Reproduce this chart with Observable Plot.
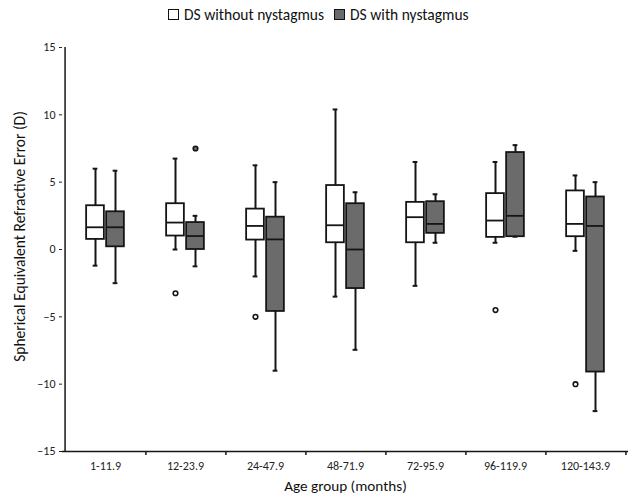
<!DOCTYPE html>
<html>
<head>
<meta charset="utf-8">
<script src="https://cdn.jsdelivr.net/npm/d3@7"></script>
<script src="https://cdn.jsdelivr.net/npm/@observablehq/plot@0.6"></script>
<style>
  body { margin: 0; background: #fff; font-family: Carlito, Lato, "Open Sans", sans-serif; }
  #legend { position: relative; height: 36px; width: 630px; font-size: 15.5px; color: #111; }
  #legendRow { position: absolute; left: 168px; top: 5px; display: flex; align-items: center; gap: 10px; white-space: nowrap; }
  .item { display: flex; align-items: center; gap: 5px; }
  .sw { width: 9px; height: 9px; border: 1.7px solid #111; display: inline-block; }
</style>
</head>
<body>
<div id="legend"><div id="legendRow"></div></div>
<div id="chart"></div>
<script>
const groups = ["1-11.9","12-23.9","24-47.9","48-71.9","72-95.9","96-119.9","120-143.9"];
const seriesNames = ["DS without nystagmus", "DS with nystagmus"];
const seriesFill = ["#ffffff", "#6b6b6b"];
const yTicks = [-15, -10, -5, 0, 5, 10, 15];

// DS without nystagmus
const noLow  = [-1.2, 0.0, -2.0, -3.5, -2.7, 0.5, -0.1];
const noQ1   = [0.75, 1.0, 0.7, 0.5, 0.5, 0.9, 0.95];
const noMed  = [1.65, 2.0, 1.75, 1.8, 2.4, 2.15, 1.9];
const noQ3   = [3.25, 3.4, 3.0, 4.75, 3.5, 4.15, 4.35];
const noHigh = [6.0, 6.75, 6.25, 10.4, 6.5, 6.5, 5.5];
const noOut  = [[], [-3.25], [-5.0], [], [], [-4.5], [-10.0]];

// DS with nystagmus
const wLow  = [-2.5, -1.25, -9.0, -7.45, 0.5, 0.95, -12.0];
const wQ1   = [0.2, 0.0, -4.6, -2.9, 1.2, 0.95, -9.1];
const wMed  = [1.65, 1.0, 0.75, 0.0, 1.9, 2.5, 1.75];
const wQ3   = [2.8, 2.0, 2.4, 3.4, 3.55, 7.2, 3.9];
const wHigh = [5.85, 2.5, 5.0, 4.25, 4.1, 7.75, 5.0];
const wOut  = [[], [7.5], [], [], [], [], []];

function rowsOf(low, q1, med, q3, high) {
  return groups.map((g, i) => ({group: g, low: low[i], q1: q1[i], med: med[i], q3: q3[i], high: high[i]}));
}
function outsOf(outs) {
  return groups.flatMap((g, i) => outs[i].map(v => ({group: g, value: v})));
}

const W = 630, H = 466, mL = 62, mR = 2, mT = 11, mB = 51;
const bw = (W - mL - mR) / groups.length;
const halfBox = 9.3, off = 10, cap = 2.8;
const ink = "#151515";

function boxMarks(rows, outs, fill, dx) {
  const inBox = bw / 2 - halfBox;
  const inCap = bw / 2 - cap;
  return [
    Plot.ruleX(rows, {x: "group", y1: "low", y2: "high", dx, stroke: ink, strokeWidth: 2}),
    Plot.tickY(rows, {x: "group", y: "low", dx, insetLeft: inCap, insetRight: inCap, stroke: ink, strokeWidth: 2}),
    Plot.tickY(rows, {x: "group", y: "high", dx, insetLeft: inCap, insetRight: inCap, stroke: ink, strokeWidth: 2}),
    Plot.barY(rows, {x: "group", y1: "q1", y2: "q3", dx, insetLeft: inBox, insetRight: inBox, fill, stroke: ink, strokeWidth: 1.8}),
    Plot.tickY(rows, {x: "group", y: "med", dx, insetLeft: inBox, insetRight: inBox, stroke: ink, strokeWidth: 1.8}),
    Plot.dot(outs, {x: "group", y: "value", dx, r: 2.3, fill, stroke: ink, strokeWidth: 1.6})
  ];
}

const chart = Plot.plot({
  width: W, height: H,
  marginLeft: mL, marginRight: mR, marginTop: mT, marginBottom: mB,
  style: {fontFamily: "Carlito, Lato, 'Open Sans', sans-serif", fontSize: "12px", color: "#222", background: "white"},
  x: {domain: groups, padding: 0, tickSize: 0, tickPadding: 10, label: null, tickFormat: d => d},
  y: {domain: [yTicks[0], yTicks[yTicks.length - 1]], ticks: yTicks, tickSize: 3, tickPadding: 4, label: null},
  marks: [
    Plot.ruleY([yTicks[0]], {stroke: ink, strokeWidth: 1.5}),
    Plot.ruleX([groups[0]], {dx: -bw / 2, stroke: ink, strokeWidth: 1.5}),
    Plot.ruleX(groups, {x: d => d, y1: () => yTicks[0], y2: () => yTicks[0], dx: bw / 2, insetBottom: -4, stroke: ink, strokeWidth: 1.5}),
    ...boxMarks(rowsOf(noLow, noQ1, noMed, noQ3, noHigh), outsOf(noOut), seriesFill[0], -off),
    ...boxMarks(rowsOf(wLow, wQ1, wMed, wQ3, wHigh), outsOf(wOut), seriesFill[1], off),
    Plot.text(["Spherical Equivalent Refractive Error (D)"], {frameAnchor: "left", textAnchor: "middle", rotate: -90, dx: -42, dy: -13, fontSize: 15.5, fill: "#111"}),
    Plot.text(["Age group (months)"], {frameAnchor: "bottom", dy: 39, fontSize: 15.2, fill: "#111"})
  ]
});
document.getElementById("chart").appendChild(chart);

const row = document.getElementById("legendRow");
seriesNames.forEach((name, i) => {
  const it = document.createElement("div");
  it.className = "item";
  const sw = document.createElement("span");
  sw.className = "sw";
  sw.style.background = seriesFill[i];
  const t = document.createElement("span");
  t.textContent = name;
  it.appendChild(sw); it.appendChild(t);
  row.appendChild(it);
});
</script>
</body>
</html>
